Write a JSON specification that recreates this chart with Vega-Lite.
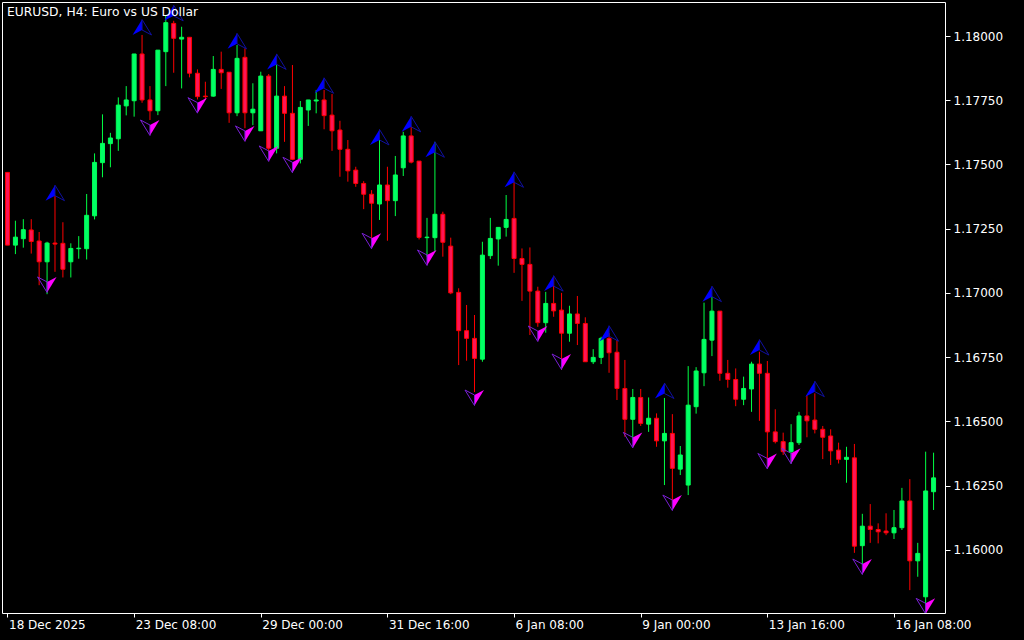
{
  "$schema": "https://vega.github.io/schema/vega-lite/v6.json",
  "width": 943,
  "height": 611,
  "autosize": {"type": "none"},
  "padding": {"left": 2, "top": 2, "right": 79, "bottom": 27},
  "background": "#000000",
  "config": {
    "view": {"stroke": "#FFFFFF", "strokeWidth": 1},
    "font": "DejaVu Sans",
    "axis": {"grid": false, "domain": false, "labelColor": "#FFFFFF", "tickColor": "#FFFFFF", "labelFont": "DejaVu Sans", "labelFontSize": 12, "title": null}
  },
  "title": {"text": "EURUSD, H4:  Euro vs US Dollar", "anchor": "start", "frame": "group", "offset": -16.5, "dx": 5, "color": "#FFFFFF", "fontSize": 12.3, "fontWeight": "normal", "font": "DejaVu Sans"},
  "datasets": {
    "candles": [
      {"k":0,"o":1.17469,"h":1.17469,"l":1.17186,"c":1.17186},
      {"k":1,"o":1.17186,"h":1.17281,"l":1.17151,"c":1.17217},
      {"k":2,"o":1.17211,"h":1.17287,"l":1.17176,"c":1.17246},
      {"k":3,"o":1.17245,"h":1.17287,"l":1.17153,"c":1.17200},
      {"k":4,"o":1.17202,"h":1.17237,"l":1.17030,"c":1.17121},
      {"k":5,"o":1.17121,"h":1.17199,"l":1.16995,"c":1.17194},
      {"k":6,"o":1.17194,"h":1.17377,"l":1.17082,"c":1.17190},
      {"k":7,"o":1.17193,"h":1.17275,"l":1.17060,"c":1.17092},
      {"k":8,"o":1.17121,"h":1.17193,"l":1.17060,"c":1.17173},
      {"k":9,"o":1.17172,"h":1.17221,"l":1.17133,"c":1.17174},
      {"k":10,"o":1.17172,"h":1.17385,"l":1.17130,"c":1.17302},
      {"k":11,"o":1.17300,"h":1.17543,"l":1.17286,"c":1.17508},
      {"k":12,"o":1.17507,"h":1.17695,"l":1.17450,"c":1.17582},
      {"k":13,"o":1.17581,"h":1.17623,"l":1.17489,"c":1.17603},
      {"k":14,"o":1.17600,"h":1.17761,"l":1.17553,"c":1.17731},
      {"k":15,"o":1.17728,"h":1.17805,"l":1.17691,"c":1.17751},
      {"k":16,"o":1.17748,"h":1.17930,"l":1.17686,"c":1.17930},
      {"k":17,"o":1.17930,"h":1.18004,"l":1.17740,"c":1.17751},
      {"k":18,"o":1.17751,"h":1.17805,"l":1.17673,"c":1.17709},
      {"k":19,"o":1.17709,"h":1.17945,"l":1.17692,"c":1.17945},
      {"k":20,"o":1.17939,"h":1.18082,"l":1.17805,"c":1.18052},
      {"k":21,"o":1.18049,"h":1.18059,"l":1.17857,"c":1.17991},
      {"k":22,"o":1.17988,"h":1.18036,"l":1.17796,"c":1.17995},
      {"k":23,"o":1.17995,"h":1.17995,"l":1.17839,"c":1.17855},
      {"k":24,"o":1.17855,"h":1.17870,"l":1.17753,"c":1.17764},
      {"k":25,"o":1.17766,"h":1.17822,"l":1.17751,"c":1.17764},
      {"k":26,"o":1.17766,"h":1.17922,"l":1.17764,"c":1.17870},
      {"k":27,"o":1.17870,"h":1.17939,"l":1.17794,"c":1.17857},
      {"k":28,"o":1.17859,"h":1.17859,"l":1.17662,"c":1.17701},
      {"k":29,"o":1.17701,"h":1.17965,"l":1.17688,"c":1.17913},
      {"k":30,"o":1.17917,"h":1.17952,"l":1.17641,"c":1.17701},
      {"k":31,"o":1.17701,"h":1.17816,"l":1.17653,"c":1.17715},
      {"k":32,"o":1.17631,"h":1.17861,"l":1.17631,"c":1.17844},
      {"k":33,"o":1.17844,"h":1.17852,"l":1.17543,"c":1.17563},
      {"k":34,"o":1.17563,"h":1.17890,"l":1.17543,"c":1.17766},
      {"k":35,"o":1.17766,"h":1.17805,"l":1.17588,"c":1.17699},
      {"k":36,"o":1.17699,"h":1.17887,"l":1.17517,"c":1.17520},
      {"k":37,"o":1.17520,"h":1.17747,"l":1.17504,"c":1.17722},
      {"k":38,"o":1.17712,"h":1.17751,"l":1.17650,"c":1.17751},
      {"k":39,"o":1.17747,"h":1.17790,"l":1.17699,"c":1.17751},
      {"k":40,"o":1.17751,"h":1.17790,"l":1.17637,"c":1.17690},
      {"k":41,"o":1.17692,"h":1.17774,"l":1.17553,"c":1.17631},
      {"k":42,"o":1.17634,"h":1.17670,"l":1.17452,"c":1.17559},
      {"k":43,"o":1.17559,"h":1.17595,"l":1.17433,"c":1.17475},
      {"k":44,"o":1.17478,"h":1.17491,"l":1.17413,"c":1.17426},
      {"k":45,"o":1.17426,"h":1.17435,"l":1.17326,"c":1.17384},
      {"k":46,"o":1.17384,"h":1.17400,"l":1.17208,"c":1.17349},
      {"k":47,"o":1.17346,"h":1.17595,"l":1.17284,"c":1.17420},
      {"k":48,"o":1.17420,"h":1.17491,"l":1.17203,"c":1.17359},
      {"k":49,"o":1.17359,"h":1.17533,"l":1.17299,"c":1.17459},
      {"k":50,"o":1.17487,"h":1.17627,"l":1.17455,"c":1.17611},
      {"k":51,"o":1.17611,"h":1.17647,"l":1.17504,"c":1.17509},
      {"k":52,"o":1.17513,"h":1.17513,"l":1.17208,"c":1.17216},
      {"k":53,"o":1.17215,"h":1.17292,"l":1.17141,"c":1.17217},
      {"k":54,"o":1.17215,"h":1.17588,"l":1.17160,"c":1.17306},
      {"k":55,"o":1.17306,"h":1.17316,"l":1.17141,"c":1.17197},
      {"k":56,"o":1.17182,"h":1.17215,"l":1.16995,"c":1.17000},
      {"k":57,"o":1.17002,"h":1.17018,"l":1.16719,"c":1.16853},
      {"k":58,"o":1.16853,"h":1.16953,"l":1.16736,"c":1.16823},
      {"k":59,"o":1.16823,"h":1.16914,"l":1.16614,"c":1.16745},
      {"k":60,"o":1.16742,"h":1.17199,"l":1.16732,"c":1.17147},
      {"k":61,"o":1.17145,"h":1.17292,"l":1.17132,"c":1.17212},
      {"k":62,"o":1.17210,"h":1.17255,"l":1.17106,"c":1.17255},
      {"k":63,"o":1.17255,"h":1.17381,"l":1.17219,"c":1.17286},
      {"k":64,"o":1.17290,"h":1.17433,"l":1.17078,"c":1.17134},
      {"k":65,"o":1.17134,"h":1.17173,"l":1.16969,"c":1.17111},
      {"k":66,"o":1.17111,"h":1.17177,"l":1.16836,"c":1.17007},
      {"k":67,"o":1.17007,"h":1.17024,"l":1.16868,"c":1.16884},
      {"k":68,"o":1.16884,"h":1.17004,"l":1.16845,"c":1.16959},
      {"k":69,"o":1.16959,"h":1.17063,"l":1.16907,"c":1.16930},
      {"k":70,"o":1.16933,"h":1.17000,"l":1.16700,"c":1.16843},
      {"k":71,"o":1.16843,"h":1.16950,"l":1.16810,"c":1.16918},
      {"k":72,"o":1.16918,"h":1.16988,"l":1.16797,"c":1.16881},
      {"k":73,"o":1.16881,"h":1.16905,"l":1.16732,"c":1.16732},
      {"k":74,"o":1.16732,"h":1.16781,"l":1.16723,"c":1.16749},
      {"k":75,"o":1.16749,"h":1.16829,"l":1.16723,"c":1.16823},
      {"k":76,"o":1.16823,"h":1.16843,"l":1.16689,"c":1.16767},
      {"k":77,"o":1.16769,"h":1.16816,"l":1.16583,"c":1.16628},
      {"k":78,"o":1.16628,"h":1.16739,"l":1.16440,"c":1.16508},
      {"k":79,"o":1.16508,"h":1.16626,"l":1.16427,"c":1.16593},
      {"k":80,"o":1.16593,"h":1.16626,"l":1.16482,"c":1.16492},
      {"k":81,"o":1.16489,"h":1.16593,"l":1.16459,"c":1.16512},
      {"k":82,"o":1.16512,"h":1.16531,"l":1.16401,"c":1.16424},
      {"k":83,"o":1.16424,"h":1.16591,"l":1.16252,"c":1.16453},
      {"k":84,"o":1.16453,"h":1.16528,"l":1.16155,"c":1.16317},
      {"k":85,"o":1.16314,"h":1.16404,"l":1.16291,"c":1.16369},
      {"k":86,"o":1.16252,"h":1.16715,"l":1.16213,"c":1.16563},
      {"k":87,"o":1.16557,"h":1.16711,"l":1.16530,"c":1.16696},
      {"k":88,"o":1.16689,"h":1.16962,"l":1.16637,"c":1.16819},
      {"k":89,"o":1.16816,"h":1.16985,"l":1.16754,"c":1.16929},
      {"k":90,"o":1.16929,"h":1.16929,"l":1.16658,"c":1.16687},
      {"k":91,"o":1.16687,"h":1.16739,"l":1.16631,"c":1.16663},
      {"k":92,"o":1.16663,"h":1.16706,"l":1.16559,"c":1.16586},
      {"k":93,"o":1.16586,"h":1.16674,"l":1.16563,"c":1.16628},
      {"k":94,"o":1.16626,"h":1.16732,"l":1.16537,"c":1.16723},
      {"k":95,"o":1.16723,"h":1.16771,"l":1.16502,"c":1.16687},
      {"k":96,"o":1.16687,"h":1.16735,"l":1.16318,"c":1.16459},
      {"k":97,"o":1.16459,"h":1.16547,"l":1.16414,"c":1.16421},
      {"k":98,"o":1.16421,"h":1.16456,"l":1.16369,"c":1.16382},
      {"k":99,"o":1.16382,"h":1.16489,"l":1.16336,"c":1.16417},
      {"k":100,"o":1.16417,"h":1.16537,"l":1.16408,"c":1.16521},
      {"k":101,"o":1.16521,"h":1.16602,"l":1.16438,"c":1.16502},
      {"k":102,"o":1.16505,"h":1.16609,"l":1.16453,"c":1.16469},
      {"k":103,"o":1.16469,"h":1.16482,"l":1.16353,"c":1.16438},
      {"k":104,"o":1.16443,"h":1.16469,"l":1.16330,"c":1.16385},
      {"k":105,"o":1.16388,"h":1.16417,"l":1.16336,"c":1.16352},
      {"k":106,"o":1.16352,"h":1.16401,"l":1.16261,"c":1.16360},
      {"k":107,"o":1.16358,"h":1.16412,"l":1.15988,"c":1.16014},
      {"k":108,"o":1.16016,"h":1.16140,"l":1.15941,"c":1.16092},
      {"k":109,"o":1.16092,"h":1.16178,"l":1.16027,"c":1.16079},
      {"k":110,"o":1.16079,"h":1.16103,"l":1.16025,"c":1.16070},
      {"k":111,"o":1.16073,"h":1.16142,"l":1.16057,"c":1.16066},
      {"k":112,"o":1.16066,"h":1.16155,"l":1.16042,"c":1.16086},
      {"k":113,"o":1.16086,"h":1.16241,"l":1.16077,"c":1.16190},
      {"k":114,"o":1.16190,"h":1.16275,"l":1.15843,"c":1.15957},
      {"k":115,"o":1.15957,"h":1.16027,"l":1.15895,"c":1.15986},
      {"k":116,"o":1.15817,"h":1.16382,"l":1.15754,"c":1.16229},
      {"k":117,"o":1.16226,"h":1.16378,"l":1.16155,"c":1.16280}
    ],
    "up": [
      {"k":6,"p":1.17359},{"k":17,"p":1.18004},{"k":21,"p":1.18059},{"k":29,"p":1.17950},
      {"k":34,"p":1.17870},{"k":40,"p":1.17777},{"k":47,"p":1.17576},{"k":51,"p":1.17627},
      {"k":54,"p":1.17528},{"k":64,"p":1.17411},{"k":69,"p":1.17007},{"k":76,"p":1.16812},
      {"k":83,"p":1.16589},{"k":89,"p":1.16966},{"k":95,"p":1.16758},{"k":102,"p":1.16596}
    ],
    "down": [
      {"k":5,"p":1.17062},{"k":18,"p":1.17673},{"k":24,"p":1.17760},{"k":30,"p":1.17650},
      {"k":33,"p":1.17572},{"k":36,"p":1.17528},{"k":46,"p":1.17232},{"k":53,"p":1.17167},
      {"k":59,"p":1.16622},{"k":67,"p":1.16871},{"k":70,"p":1.16762},{"k":79,"p":1.16457},
      {"k":84,"p":1.16213},{"k":96,"p":1.16375},{"k":99,"p":1.16395},{"k":108,"p":1.15964},
      {"k":116,"p":1.15811}
    ]
  },
  "encoding": {
    "x": {
      "field": "k", "type": "quantitative",
      "scale": {"domain": [-0.0625, 117.8125], "nice": false, "zero": false},
      "axis": {
        "values": [0, 16, 32, 48, 64, 80, 96, 112],
        "labelExpr": "datum.value == 0 ? '18 Dec 2025' : datum.value == 16 ? '23 Dec 08:00' : datum.value == 32 ? '29 Dec 00:00' : datum.value == 48 ? '31 Dec 16:00' : datum.value == 64 ? '6 Jan 08:00' : datum.value == 80 ? '9 Jan 00:00' : datum.value == 96 ? '13 Jan 16:00' : '16 Jan 08:00'",
        "labelAlign": "left", "labelBaseline": "top", "labelPadding": 2, "labelOffset": 1,
        "tickSize": 4, "labelFlush": false, "labelOverlap": false, "title": null
      }
    }
  },
  "layer": [
    {
      "data": {"name": "candles"},
      "mark": {"type": "rule", "strokeWidth": 1, "clip": true},
      "encoding": {
        "y": {"field": "l", "type": "quantitative", "scale": {"domain": [1.1575395, 1.1813235], "nice": false, "zero": false},
              "axis": {"orient": "right", "values": [1.16, 1.1625, 1.165, 1.1675, 1.17, 1.1725, 1.175, 1.1775, 1.18], "format": ".5f", "tickSize": 5, "labelPadding": 3, "title": null}},
        "y2": {"field": "h"},
        "color": {"condition": {"test": "datum.c > datum.o", "value": "#00FF44"}, "value": "#FF0000"}
      }
    },
    {
      "data": {"name": "candles"},
      "mark": {"type": "bar", "orient": "vertical", "size": 4, "strokeWidth": 1, "clip": true},
      "encoding": {
        "y": {"field": "o", "type": "quantitative", "scale": {"domain": [1.1575395, 1.1813235], "nice": false, "zero": false}, "title": null},
        "y2": {"field": "c"},
        "fill": {"condition": {"test": "datum.c > datum.o", "value": "#00FF66"}, "value": "#FF1455"},
        "stroke": {"condition": {"test": "datum.c > datum.o", "value": "#00FF55"}, "value": "#FF0000"}
      }
    },
    {
      "data": {"name": "up"},
      "mark": {"type": "point", "shape": "M0,-15.5L-9.5,0L0,-5Z", "size": 4, "filled": true, "color": "#0000FF", "opacity": 1, "clip": true},
      "encoding": {"y": {"field": "p", "type": "quantitative", "scale": {"domain": [1.1575395, 1.1813235], "nice": false, "zero": false}, "title": null}}
    },
    {
      "data": {"name": "up"},
      "mark": {"type": "point", "shape": "M0,-15.5L9.5,0L0,-5Z", "size": 4, "filled": false, "stroke": "#1010A0", "strokeWidth": 1, "opacity": 1, "clip": true},
      "encoding": {"y": {"field": "p", "type": "quantitative", "scale": {"domain": [1.1575395, 1.1813235], "nice": false, "zero": false}, "title": null}}
    },
    {
      "data": {"name": "down"},
      "mark": {"type": "point", "shape": "M0,15.5L9.5,0L0,5Z", "size": 4, "filled": true, "color": "#FF00FF", "opacity": 1, "clip": true},
      "encoding": {"y": {"field": "p", "type": "quantitative", "scale": {"domain": [1.1575395, 1.1813235], "nice": false, "zero": false}, "title": null}}
    },
    {
      "data": {"name": "down"},
      "mark": {"type": "point", "shape": "M0,15.5L-9.5,0L0,5Z", "size": 4, "filled": false, "stroke": "#7A1FD6", "strokeWidth": 1, "opacity": 1, "clip": true},
      "encoding": {"y": {"field": "p", "type": "quantitative", "scale": {"domain": [1.1575395, 1.1813235], "nice": false, "zero": false}, "title": null}}
    }
  ]
}
